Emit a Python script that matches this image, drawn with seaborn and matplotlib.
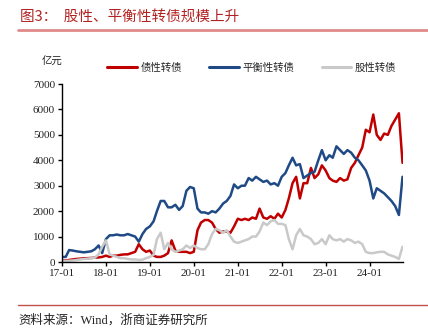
import matplotlib
matplotlib.use("Agg")
import matplotlib.pyplot as plt
import matplotlib.dates as mdates
from matplotlib.lines import Line2D
import seaborn as sns
import pandas as pd
import numpy as np

# ---- data (亿元), monthly from 2017-01 to 2024-10 ----
start_month = "2017-01-01"
n_months = 94
series_names = ["债性转债", "平衡性转债", "股性转债"]

debt_like = [50, 60, 80, 100, 120, 130, 150, 150, 160, 170, 180, 200,
             250, 200, 250, 250, 280, 300, 300, 350, 400, 700, 500, 400,
             450, 250, 200, 200, 250, 350, 850, 450, 400, 400, 400, 350,
             400, 1250, 1550, 1650, 1650, 1550, 1300, 1150, 1200, 1200, 1150, 1400,
             1700, 1650, 1700, 1650, 1750, 1700, 2100, 1750, 1700, 1800, 1700, 1900,
             1750, 2050, 2500, 3100, 3350, 2500, 3100, 3100, 3700, 3300, 3450, 3800,
             3600, 3300, 3200, 3150, 3300, 3200, 3250, 3700, 3900, 4200, 4500, 5200,
             5100, 5800, 5000, 4800, 5050, 5000, 5350, 5600, 5850, 3900]

balanced = [200, 200, 470, 450, 420, 400, 380, 400, 420, 500, 650, 350,
            900, 1050, 1050, 1080, 1050, 1050, 1100, 1050, 1000, 800, 1100, 1300,
            1400, 1600, 2000, 2400, 2400, 2150, 2150, 2250, 2050, 2200, 2800, 2950,
            2900, 2100, 1950, 1950, 1900, 2000, 1950, 2100, 2300, 2400, 2600, 3050,
            2900, 3000, 3000, 3300, 3200, 3350, 3250, 3150, 3200, 3050, 3100, 3000,
            3350, 3500, 3800, 4100, 3800, 3850, 3300, 3400, 3500, 3550, 4000, 4400,
            4000, 4200, 4100, 4550, 4400, 4250, 4400, 4300, 4100, 4000, 3800, 3600,
            3200, 2500, 2900, 2800, 2700, 2550, 2400, 2200, 1850, 3350]

equity_like = [30, 40, 50, 60, 80, 100, 120, 130, 150, 170, 300, 600,
               850, 300, 250, 200, 150, 150, 120, 100, 100, 80, 90, 150,
               200, 280, 900, 1150, 500, 750, 500, 400, 450, 500, 650, 550,
               650, 550, 500, 500, 700, 1100, 1300, 1250, 1150, 1250, 1000, 800,
               750, 800, 850, 900, 1000, 1000, 1200, 1550, 1450, 1600, 1650, 1500,
               1500, 1450, 900, 500, 1050, 1300, 1050, 1000, 900, 700, 750, 900,
               700, 1050, 900, 850, 900, 800, 900, 850, 750, 800, 700, 400,
               350, 350, 380, 400, 400, 300, 250, 200, 120, 600]

y_ticks = [0, 1000, 2000, 3000, 4000, 5000, 6000, 7000]
x_tick_years = [2017, 2018, 2019, 2020, 2021, 2022, 2023, 2024]

colors = {"债性转债": "#C00000", "平衡性转债": "#1F4A86", "股性转债": "#C9C9C9"}

dates = pd.date_range(start_month, periods=n_months, freq="MS")
df = pd.concat([
    pd.DataFrame({"date": dates, "value": vals, "series": name})
    for name, vals in zip(series_names, [debt_like, balanced, equity_like])
], ignore_index=True)

sns.set_theme(style="white")
cjk = ["Noto Sans CJK SC", "DejaVu Sans"]
serif = ["Liberation Serif", "Noto Sans CJK SC"]
plt.rcParams["font.family"] = cjk

fig = plt.figure(figsize=(4.28, 3.28), dpi=100)
ax = fig.add_axes([62/428, 1-262/328, (403-62)/428, (262-84)/328])

sns.lineplot(data=df, x="date", y="value", hue="series", hue_order=series_names,
             palette=colors, linewidth=1.8, ax=ax, legend=True)

handles, labels = ax.get_legend_handles_labels()
ax.get_legend().remove()

ax.set_ylim(0, 7000)
ax.set_yticks(y_ticks)
ax.set_xlim(pd.Timestamp("2017-01-01"), pd.Timestamp("2024-10-05"))
ax.set_xticks([pd.Timestamp(f"{y}-01-01") for y in x_tick_years])
ax.set_xticklabels([f"{y % 100:02d}-01" for y in x_tick_years])
ax.set_xlabel("")
ax.set_ylabel("")

for s in ["top", "right"]:
    ax.spines[s].set_visible(False)
for s in ["left", "bottom"]:
    ax.spines[s].set_color("black")
    ax.spines[s].set_linewidth(1.0)

ax.tick_params(axis="both", which="major", direction="out", length=3, width=1,
               color="black", labelsize=8, pad=2, left=True, bottom=True)
for lab in ax.get_xticklabels() + ax.get_yticklabels():
    lab.set_family(serif)
    lab.set_color("#222222")

leg = fig.legend(handles, labels, loc="center", bbox_to_anchor=(252/428, 1-68/328),
                 ncol=3, frameon=False, handlelength=2.8, handletextpad=0.4,
                 columnspacing=2.6, prop={"family": cjk, "size": 7.5, "weight": "light"})
for line in leg.get_lines():
    line.set_linewidth(2.2)

fig.text(42/428, 1-62/328, "亿元", fontsize=7.5, family=cjk, weight="light",
         color="#222222", ha="left", va="center")

fig.text(20/428, 1-18/328, "图3：  股性、平衡性转债规模上升", fontsize=10.5, family=cjk,
         weight="light", color="#B22222", ha="left", va="center")
fig.add_artist(Line2D([18/428, 1.0], [1-30/328, 1-30/328], color="#E08A8A", lw=2.0))

fig.add_artist(Line2D([18/428, 1.0], [1-305/328, 1-305/328], color="#C0504D", lw=1.0))
fig.text(18/428, 1-320/328, "资料来源：Wind，浙商证券研究所", fontsize=9, family=serif,
         weight="light", color="#222222", ha="left", va="center")

fig.savefig("out.png", dpi=100)
